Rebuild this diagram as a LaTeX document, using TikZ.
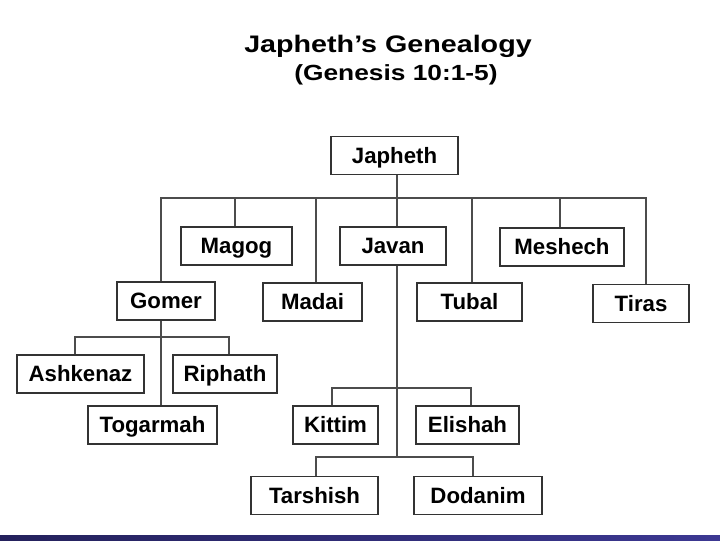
\documentclass[tikz,border=0pt]{standalone}
\usepackage{fontspec}
\setmainfont{Liberation Sans}
\usepackage{graphicx}
\usepackage{xcolor}
\definecolor{Barra1}{RGB}{36,33,92}
\definecolor{Barra2}{RGB}{60,56,146}
\usetikzlibrary{calc, positioning}

\begin{document}
\begin{tikzpicture}[x=0.025cm, y=-0.025cm,
  kin/.style={rectangle, draw=black!80, line width=1pt, fill=white,
    minimum height=0.95cm, inner sep=0pt, text height=11.2pt, text depth=0pt,
    align=center, font=\bfseries\fontsize{15.8}{18}\selectfont},
  ttl/.style={inner sep=0pt, font=\bfseries\fontsize{17}{20}\selectfont},
  sub/.style={inner sep=0pt, font=\bfseries\fontsize{15.6}{18}\selectfont},
  lnk/.style={draw=black!70, line width=0.9pt}
]
\useasboundingbox (0,0) rectangle (720,540);

%% -- Titulo -----------------------------------------------------------
\node[ttl] (T1) at (388,46) {\scalebox{1.2}[1]{Japheth’s Genealogy}};
\node[sub] (T2) at (396,75) {\scalebox{1.2}[1]{(Genesis 10:1-5)}};

%% -- Japheth ----------------------------------------------------------
\node[kin, minimum width=3.175cm] (JA) at (394.5,155.5) {Japheth};

%% -- Hijos (fila 1 y 2) -----------------------------------------------
\node[kin, minimum width=2.775cm] (MG) at (236.5,246) {Magog};
\node[kin, minimum width=2.65cm]  (JV) at (393,246)   {Javan};
\node[kin, minimum width=3.1cm]   (MS) at (562,247)   {Meshech};
\node[kin, minimum width=2.45cm]  (GO) at (166,301)   {Gomer};
\node[kin, minimum width=2.475cm] (MD) at (312.5,302) {Madai};
\node[kin, minimum width=2.625cm] (TU) at (469.5,302) {Tubal};
\node[kin, minimum width=2.4cm]   (TI) at (641,303.5) {Tiras};

\coordinate (dGO) at (161,198);
\coordinate (dMG) at (235,198);
\coordinate (dMD) at (316,198);
\coordinate (dJV) at (397,198);
\coordinate (dTU) at (472,198);
\coordinate (dMS) at (560,198);
\coordinate (dTI) at (646,198);

\draw[lnk] (JA.south -| dJV) -- (dJV);
\draw[lnk] (dGO |- GO.north) -- (dGO) -- (dTI) -- (dTI |- TI.north);
\draw[lnk] (dMG) -- (dMG |- MG.north);
\draw[lnk] (dMD) -- (dMD |- MD.north);
\draw[lnk] (dJV) -- (dJV |- JV.north);
\draw[lnk] (dTU) -- (dTU |- TU.north);
\draw[lnk] (dMS) -- (dMS |- MS.north);

%% -- Hijos de Gomer ---------------------------------------------------
\node[kin, minimum width=3.175cm] (AS) at (80.5,374)  {Ashkenaz};
\node[kin, minimum width=2.6cm]   (RI) at (225,374)   {Riphath};
\node[kin, minimum width=3.225cm] (TG) at (152.5,425) {Togarmah};

\coordinate (gL) at (75,337);
\coordinate (gR) at (229,337);

\draw[lnk] (GO.south -| dGO) -- (dGO |- TG.north);
\draw[lnk] (gL |- AS.north) -- (gL) -- (gR) -- (gR |- RI.north);

%% -- Hijos de Javan ---------------------------------------------------
\node[kin, minimum width=2.125cm] (KI) at (335.5,425) {Kittim};
\node[kin, minimum width=2.575cm] (EL) at (467.5,425) {Elishah};
\node[kin, minimum width=3.175cm] (TA) at (314.5,495.5) {Tarshish};
\node[kin, minimum width=3.2cm]   (DO) at (478,495.5) {Dodanim};

\coordinate (vA) at (332,388);
\coordinate (vB) at (471,388);
\coordinate (vC) at (316,457);
\coordinate (vD) at (473,457);

\draw[lnk] (JV.south -| dJV) -- (dJV |- vC);
\draw[lnk] (vA |- KI.north) -- (vA) -- (vB) -- (vB |- EL.north);
\draw[lnk] (vC |- TA.north) -- (vC) -- (vD) -- (vD |- DO.north);

%% -- Barra inferior ---------------------------------------------------
\shade[left color=Barra1, right color=Barra2] (0,535) rectangle (720,540);

\end{tikzpicture}
\end{document}
